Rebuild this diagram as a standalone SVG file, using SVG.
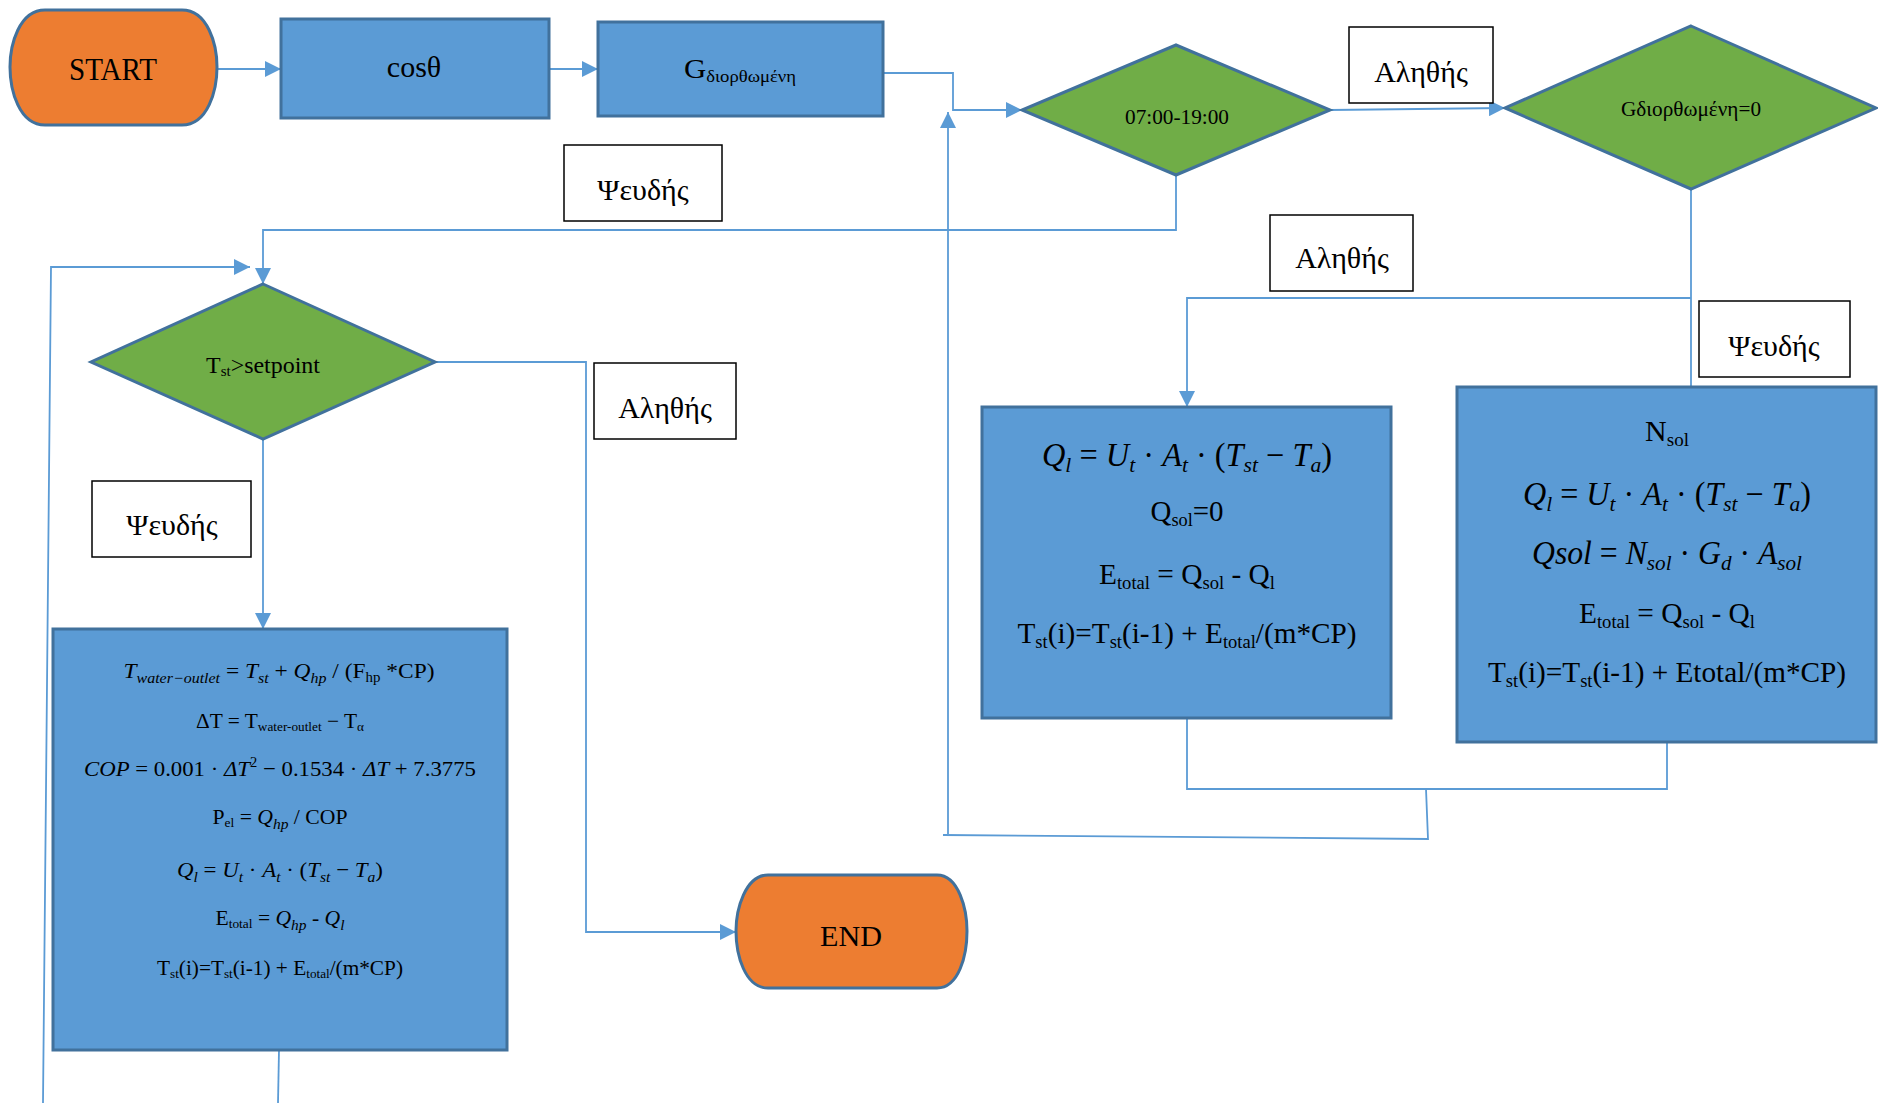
<svg xmlns="http://www.w3.org/2000/svg" width="1878" height="1103" viewBox="0 0 1878 1103">
<style>
.blue{fill:#5B9BD5;stroke:#41719C;stroke-width:3}
.green{fill:#70AD47;stroke:#41719C;stroke-width:3}
.orange{fill:#ED7D31;stroke:#41719C;stroke-width:3}
.lbl{fill:#FFFFFF;stroke:#000000;stroke-width:1.5}
.conn{fill:none;stroke:#5B9BD5;stroke-width:1.8}
text{font-family:"Liberation Serif","Times New Roman",serif;fill:#000000}
.m{font-style:italic}
.u{font-style:normal}
</style>
<defs>
<marker id="arr" markerUnits="userSpaceOnUse" markerWidth="18" markerHeight="16" refX="16" refY="8" orient="auto">
<path d="M0,0 L16,8 L0,16 Z" fill="#5B9BD5"/>
</marker>
</defs>

<g id="connectors">
<path class="conn" d="M217,69 H281" marker-end="url(#arr)"/>
<path class="conn" d="M549,69 H598" marker-end="url(#arr)"/>
<path class="conn" d="M883,73 H953 V110 H1022" marker-end="url(#arr)"/>
<path class="conn" d="M1330,110 L1505,108" marker-end="url(#arr)"/>
<path class="conn" d="M1176,175 V230 H263 V284" marker-end="url(#arr)"/>
<path class="conn" d="M1691,189 V387"/>
<path class="conn" d="M1691,298 H1187 V407" marker-end="url(#arr)"/>
<path class="conn" d="M1187,718 V789 H1667 V742"/>
<path class="conn" d="M1426,789 L1428,839 L943,835"/>
<path class="conn" d="M948,834 V112" marker-end="url(#arr)"/>
<path class="conn" d="M435,362 H586 V932 H736" marker-end="url(#arr)"/>
<path class="conn" d="M263,439 V629" marker-end="url(#arr)"/>
<path class="conn" d="M43,1103 L51,267 H250" marker-end="url(#arr)"/>
<path class="conn" d="M279,1050 L278,1103"/>
</g>

<g id="start">
<path class="orange" d="M45,10 H182 C208,10 217,45 217,67 C217,90 208,125 182,125 H45 C19,125 10,90 10,67 C10,45 19,10 45,10 Z"/>
<text x="113" y="80" font-size="31" text-anchor="middle" textLength="88" lengthAdjust="spacingAndGlyphs">START</text>
</g>

<g id="cos">
<rect class="blue" x="281" y="19" width="268" height="99"/>
<text x="414" y="77" font-size="30" text-anchor="middle">cosθ</text>
</g>

<g id="gcorr">
<rect class="blue" x="598" y="22" width="285" height="94"/>
<text x="740" y="78" font-size="28" text-anchor="middle" textLength="112" lengthAdjust="spacingAndGlyphs">G<tspan font-size="17" dy="4">διορθωμένη</tspan></text>
</g>

<g id="time">
<polygon class="green" points="1176,45 1330,110 1176,175 1022,110"/>
<text x="1177" y="124" font-size="22" text-anchor="middle" textLength="104" lengthAdjust="spacingAndGlyphs">07:00-19:00</text>
</g>

<g id="gzero">
<polygon class="green" points="1691,26 1876,108 1691,189 1505,108"/>
<text x="1691" y="116" font-size="21" text-anchor="middle" textLength="140" lengthAdjust="spacingAndGlyphs">Gδιορθωμένη=0</text>
</g>

<g id="tst">
<polygon class="green" points="263,284 435,362 263,439 91,362"/>
<text x="263" y="373" font-size="24" text-anchor="middle" textLength="114" lengthAdjust="spacingAndGlyphs">T<tspan font-size="15" dy="3">st</tspan><tspan dy="-3">&gt;setpoint</tspan></text>
</g>

<g id="end">
<path class="orange" d="M768,875 H937 C959,875 967,910 967,931 C967,955 959,988 937,988 H768 C745,988 736,955 736,931 C736,910 745,875 768,875 Z"/>
<text x="851" y="946" font-size="29" text-anchor="middle" textLength="62" lengthAdjust="spacingAndGlyphs">END</text>
</g>

<g id="label-false-1">
<rect class="lbl" x="564" y="145" width="158" height="76"/>
<text x="643" y="200" font-size="30" text-anchor="middle">Ψευδής</text>
</g>
<g id="label-true-1">
<rect class="lbl" x="1349" y="27" width="144" height="76"/>
<text x="1421" y="82" font-size="30" text-anchor="middle">Αληθής</text>
</g>
<g id="label-true-2">
<rect class="lbl" x="1270" y="215" width="143" height="76"/>
<text x="1342" y="268" font-size="30" text-anchor="middle">Αληθής</text>
</g>
<g id="label-false-2">
<rect class="lbl" x="1699" y="301" width="151" height="76"/>
<text x="1774" y="356" font-size="30" text-anchor="middle">Ψευδής</text>
</g>
<g id="label-true-3">
<rect class="lbl" x="594" y="363" width="142" height="76"/>
<text x="665" y="418" font-size="30" text-anchor="middle">Αληθής</text>
</g>
<g id="label-false-3">
<rect class="lbl" x="92" y="481" width="159" height="76"/>
<text x="172" y="535" font-size="30" text-anchor="middle">Ψευδής</text>
</g>

<g id="box-night">
<rect class="blue" x="982" y="407" width="409" height="311"/>
<text class="m" x="1187" y="466" font-size="33" text-anchor="middle" textLength="290" lengthAdjust="spacingAndGlyphs">Q<tspan font-size="22" dy="6">l</tspan><tspan class="u" dy="-6"> = </tspan>U<tspan font-size="22" dy="6">t</tspan><tspan class="u" dy="-6"> · </tspan>A<tspan font-size="22" dy="6">t</tspan><tspan class="u" dy="-6"> · (</tspan>T<tspan font-size="22" dy="6">st</tspan><tspan class="u" dy="-6"> − </tspan>T<tspan font-size="22" dy="6">a</tspan><tspan class="u" dy="-6">)</tspan></text>
<text x="1187" y="521" font-size="30" text-anchor="middle" textLength="73" lengthAdjust="spacingAndGlyphs">Q<tspan font-size="19" dy="5">sol</tspan><tspan dy="-5">=0</tspan></text>
<text x="1187" y="584" font-size="30" text-anchor="middle" textLength="176" lengthAdjust="spacingAndGlyphs">E<tspan font-size="19" dy="5">total</tspan><tspan dy="-5"> = Q</tspan><tspan font-size="19" dy="5">sol</tspan><tspan dy="-5"> - Q</tspan><tspan font-size="19" dy="5">l</tspan></text>
<text x="1187" y="643" font-size="30" text-anchor="middle" textLength="339" lengthAdjust="spacingAndGlyphs">T<tspan font-size="19" dy="5">st</tspan><tspan dy="-5">(i)=T</tspan><tspan font-size="19" dy="5">st</tspan><tspan dy="-5">(i-1) + E</tspan><tspan font-size="19" dy="5">total</tspan><tspan dy="-5">/(m*CP)</tspan></text>
</g>

<g id="box-day">
<rect class="blue" x="1457" y="387" width="419" height="355"/>
<text x="1667" y="441" font-size="30" text-anchor="middle">N<tspan font-size="19" dy="5">sol</tspan></text>
<text class="m" x="1667" y="505" font-size="33" text-anchor="middle" textLength="288" lengthAdjust="spacingAndGlyphs">Q<tspan font-size="22" dy="6">l</tspan><tspan class="u" dy="-6"> = </tspan>U<tspan font-size="22" dy="6">t</tspan><tspan class="u" dy="-6"> · </tspan>A<tspan font-size="22" dy="6">t</tspan><tspan class="u" dy="-6"> · (</tspan>T<tspan font-size="22" dy="6">st</tspan><tspan class="u" dy="-6"> − </tspan>T<tspan font-size="22" dy="6">a</tspan><tspan class="u" dy="-6">)</tspan></text>
<text class="m" x="1667" y="564" font-size="33" text-anchor="middle" textLength="270" lengthAdjust="spacingAndGlyphs">Qsol<tspan class="u"> = </tspan>N<tspan font-size="22" dy="6">sol</tspan><tspan class="u" dy="-6"> · </tspan>G<tspan font-size="22" dy="6">d</tspan><tspan class="u" dy="-6"> · </tspan>A<tspan font-size="22" dy="6">sol</tspan></text>
<text x="1667" y="623" font-size="30" text-anchor="middle" textLength="176" lengthAdjust="spacingAndGlyphs">E<tspan font-size="19" dy="5">total</tspan><tspan dy="-5"> = Q</tspan><tspan font-size="19" dy="5">sol</tspan><tspan dy="-5"> - Q</tspan><tspan font-size="19" dy="5">l</tspan></text>
<text x="1667" y="682" font-size="30" text-anchor="middle" textLength="358" lengthAdjust="spacingAndGlyphs">T<tspan font-size="19" dy="5">st</tspan><tspan dy="-5">(i)=T</tspan><tspan font-size="19" dy="5">st</tspan><tspan dy="-5">(i-1) + Etotal/(m*CP)</tspan></text>
</g>

<g id="box-heatpump">
<rect class="blue" x="53" y="629" width="454" height="421"/>
<text class="m" x="279" y="678" font-size="22" text-anchor="middle" textLength="311" lengthAdjust="spacingAndGlyphs">T<tspan font-size="15" dy="5">water−outlet</tspan><tspan class="u" dy="-5"> = </tspan>T<tspan font-size="15" dy="5">st</tspan><tspan class="u" dy="-5"> + </tspan>Q<tspan font-size="15" dy="5">hp</tspan><tspan class="u" dy="-5"> / (F</tspan><tspan class="u" font-size="14" dy="4">hp</tspan><tspan class="u" dy="-4"> *CP)</tspan></text>
<text x="280" y="728" font-size="21" text-anchor="middle" textLength="168" lengthAdjust="spacingAndGlyphs">ΔT = T<tspan font-size="13" dy="3">water-outlet</tspan><tspan dy="-3"> − T</tspan><tspan font-size="13" dy="3">α</tspan></text>
<text x="280" y="776" font-size="22" text-anchor="middle" textLength="392" lengthAdjust="spacingAndGlyphs"><tspan class="m">COP</tspan> =  0.001 · <tspan class="m">ΔT</tspan><tspan font-size="14" dy="-9">2</tspan><tspan dy="9"> − 0.1534 · </tspan><tspan class="m">ΔT</tspan> + 7.3775</text>
<text x="280" y="824" font-size="21" text-anchor="middle" textLength="135" lengthAdjust="spacingAndGlyphs">P<tspan font-size="13" dy="3">el</tspan><tspan dy="-3"> = </tspan><tspan class="m">Q</tspan><tspan class="m" font-size="15" dy="5">hp</tspan><tspan dy="-5"> / COP</tspan></text>
<text class="m" x="280" y="877" font-size="22" text-anchor="middle" textLength="206" lengthAdjust="spacingAndGlyphs">Q<tspan font-size="15" dy="5">l</tspan><tspan class="u" dy="-5"> = </tspan>U<tspan font-size="15" dy="5">t</tspan><tspan class="u" dy="-5"> · </tspan>A<tspan font-size="15" dy="5">t</tspan><tspan class="u" dy="-5"> · (</tspan>T<tspan font-size="15" dy="5">st</tspan><tspan class="u" dy="-5"> − </tspan>T<tspan font-size="15" dy="5">a</tspan><tspan class="u" dy="-5">)</tspan></text>
<text x="280" y="925" font-size="21" text-anchor="middle" textLength="129" lengthAdjust="spacingAndGlyphs">E<tspan font-size="13" dy="3">total</tspan><tspan dy="-3"> = </tspan><tspan class="m">Q</tspan><tspan class="m" font-size="15" dy="5">hp</tspan><tspan dy="-5"> - </tspan><tspan class="m">Q</tspan><tspan class="m" font-size="15" dy="5">l</tspan></text>
<text x="280" y="975" font-size="21" text-anchor="middle" textLength="246" lengthAdjust="spacingAndGlyphs">T<tspan font-size="13" dy="3">st</tspan><tspan dy="-3">(i)=T</tspan><tspan font-size="13" dy="3">st</tspan><tspan dy="-3">(i-1) + E</tspan><tspan font-size="13" dy="3">total</tspan><tspan dy="-3">/(m*CP)</tspan></text>
</g>
</svg>
